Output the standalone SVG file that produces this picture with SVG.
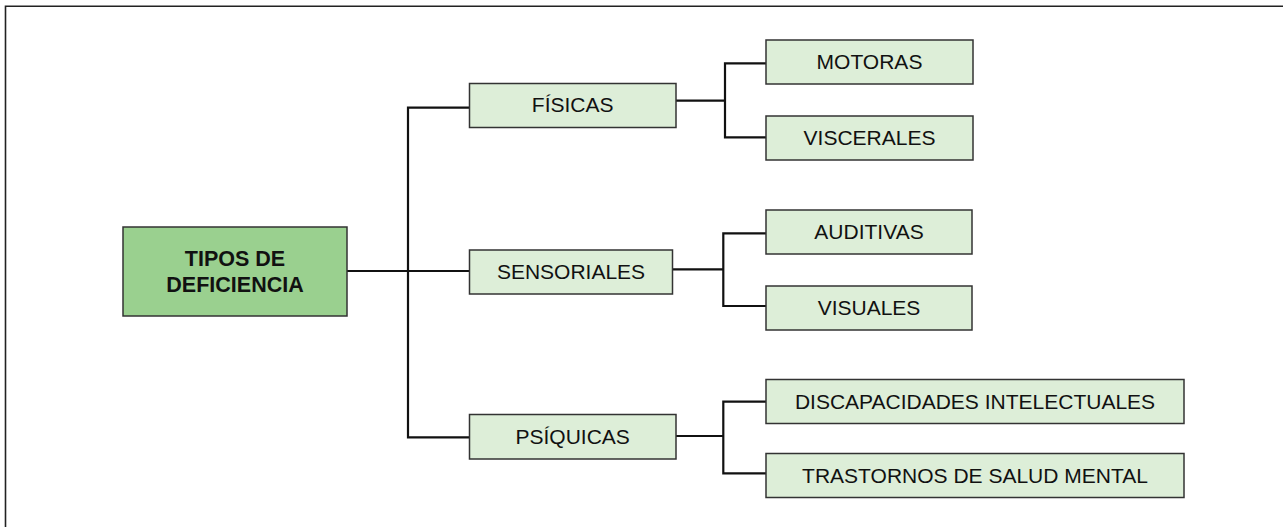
<svg xmlns="http://www.w3.org/2000/svg" width="1283" height="527" viewBox="0 0 1283 527">
<style>
.frame{fill:none;stroke:#222;stroke-width:1.6}
.box{fill:#ddeed8;stroke:#333;stroke-width:1.5}
.main{fill:#9ad08f;stroke:#333;stroke-width:1.5}
.lbl{font-family:"Liberation Sans",Arial,Helvetica,sans-serif;font-size:21px;fill:#111;text-anchor:middle}
.ttl{font-family:"Liberation Sans",Arial,Helvetica,sans-serif;font-size:21.5px;font-weight:bold;fill:#111;text-anchor:middle}
.con{fill:none;stroke:#111;stroke-width:2.2}
</style>
<rect width="1283" height="527" fill="#fff"/>
<path class="frame" d="M5.5,527 V6.2 H1283"/>
<g id="connectors">
<path class="con" d="M347,271 H469.5"/>
<path class="con" d="M469.5,107.7 H408 V437.3 H469.5"/>
<path class="con" d="M676,100.7 H725"/>
<path class="con" d="M766,63.3 H725 V137.3 H766"/>
<path class="con" d="M673,269.3 H723.3"/>
<path class="con" d="M766,233.3 H723.3 V306 H766"/>
<path class="con" d="M676,436 H723.3"/>
<path class="con" d="M766,401.7 H723.3 V473.3 H766"/>
</g>
<g id="tipos">
<rect class="main" x="123" y="227" width="224" height="89"/>
<text class="ttl" x="235" y="266">TIPOS DE</text>
<text class="ttl" x="235" y="292">DEFICIENCIA</text>
</g>
<g id="fisicas">
<rect class="box" x="469.5" y="83.5" width="206.5" height="44"/>
<text class="lbl" x="572.7" y="112.3">FÍSICAS</text>
</g>
<g id="sensoriales">
<rect class="box" x="469.5" y="250" width="203" height="44"/>
<text class="lbl" x="571" y="279.3">SENSORIALES</text>
</g>
<g id="psiquicas">
<rect class="box" x="469.5" y="414.5" width="206.5" height="44.5"/>
<text class="lbl" x="572.7" y="444">PSÍQUICAS</text>
</g>
<g id="motoras">
<rect class="box" x="766" y="40" width="207" height="44"/>
<text class="lbl" x="869.5" y="69.3">MOTORAS</text>
</g>
<g id="viscerales">
<rect class="box" x="766" y="116" width="207" height="44"/>
<text class="lbl" x="869.5" y="145">VISCERALES</text>
</g>
<g id="auditivas">
<rect class="box" x="766" y="210" width="206" height="44"/>
<text class="lbl" x="869" y="239.3">AUDITIVAS</text>
</g>
<g id="visuales">
<rect class="box" x="766" y="286" width="206" height="44"/>
<text class="lbl" x="869" y="315">VISUALES</text>
</g>
<g id="discapacidades">
<rect class="box" x="766" y="379.5" width="418" height="44"/>
<text class="lbl" x="975" y="409.3">DISCAPACIDADES INTELECTUALES</text>
</g>
<g id="trastornos">
<rect class="box" x="766" y="453.5" width="418" height="44"/>
<text class="lbl" x="975" y="483.3">TRASTORNOS DE SALUD MENTAL</text>
</g>
</svg>
